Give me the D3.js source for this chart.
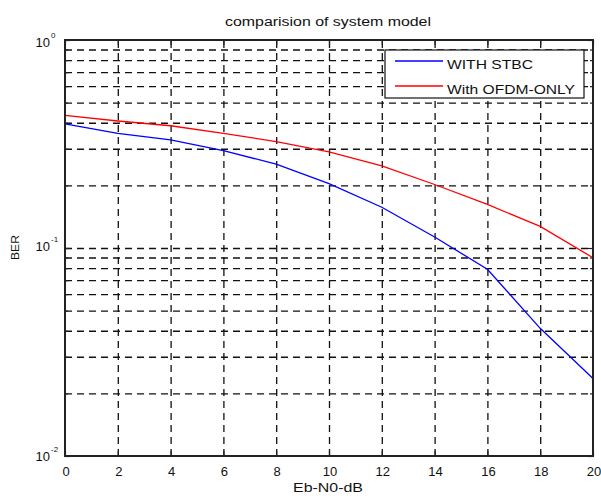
<!DOCTYPE html>
<html>
<head>
<meta charset="utf-8">
<script src="https://cdn.jsdelivr.net/npm/d3@7"></script>
<style>
body { margin: 0; background: #fff; }
svg text { font-family: "Liberation Sans", Arial, sans-serif; fill: #111; }
.grid line { stroke: #111; stroke-width: 1.3; stroke-dasharray: 7,5; }
.grid path, .ticks path { display: none; }
.ticks line { stroke: #222; stroke-width: 1.2; }
</style>
</head>
<body>
<div id="chart"></div>
<script>
// data
var ebn0 = [0, 2, 4, 6, 8, 10, 12, 14, 16, 18, 20];
var berStbc = [0.395, 0.356, 0.331, 0.294, 0.253, 0.204, 0.157, 0.113, 0.079, 0.0411, 0.0236];
var berOfdm = [0.434, 0.408, 0.387, 0.356, 0.325, 0.290, 0.248, 0.202, 0.162, 0.127, 0.0898];

var xTickValues = [0, 2, 4, 6, 8, 10, 12, 14, 16, 18, 20];
var yMajorTicks = [1, 0.1, 0.01];
var yExponents = ["0", "-1", "-2"];
var yMinorTicks = [0.02, 0.03, 0.04, 0.05, 0.06, 0.07, 0.08, 0.09,
                   0.2, 0.3, 0.4, 0.5, 0.6, 0.7, 0.8, 0.9];
var seriesNames = ["WITH STBC", "With OFDM-ONLY"];
var seriesColors = ["#0000ff", "#ff0000"];

var svgWidth = 601;
var svgHeight = 498;
var margin = { top: 40, right: 8, bottom: 42, left: 65 };
var width = svgWidth - margin.left - margin.right;
var height = svgHeight - margin.top - margin.bottom;

var svg = d3.select("#chart")
    .append("svg")
    .attr("width", svgWidth)
    .attr("height", svgHeight);

var chartGroup = svg.append("g")
    .attr("transform", `translate(${margin.left}, ${margin.top})`);

var xScale = d3.scaleLinear().domain([0, 20]).range([0, width]);
var yScale = d3.scaleLog().domain([0.01, 1]).range([height, 0]);

// dashed grid
chartGroup.append("g")
    .attr("class", "grid")
    .attr("transform", `translate(0, ${height})`)
    .call(d3.axisBottom(xScale).tickValues(xTickValues.slice(1, -1)).tickSize(-height).tickFormat(""));

chartGroup.append("g")
    .attr("class", "grid")
    .call(d3.axisLeft(yScale).tickValues(yMinorTicks.concat([0.1])).tickSize(-width).tickFormat(""));

// inward ticks on all four sides
chartGroup.append("g").attr("class", "ticks")
    .attr("transform", `translate(0, ${height})`)
    .call(d3.axisBottom(xScale).tickValues(xTickValues).tickSize(-5).tickFormat(""));
chartGroup.append("g").attr("class", "ticks")
    .call(d3.axisTop(xScale).tickValues(xTickValues).tickSize(-5).tickFormat(""));
chartGroup.append("g").attr("class", "ticks")
    .call(d3.axisLeft(yScale).tickValues(yMajorTicks).tickSize(-5).tickFormat(""));
chartGroup.append("g").attr("class", "ticks")
    .call(d3.axisLeft(yScale).tickValues(yMinorTicks).tickSize(-3).tickFormat(""));
chartGroup.append("g").attr("class", "ticks")
    .attr("transform", `translate(${width}, 0)`)
    .call(d3.axisRight(yScale).tickValues(yMajorTicks).tickSize(-5).tickFormat(""));
chartGroup.append("g").attr("class", "ticks")
    .attr("transform", `translate(${width}, 0)`)
    .call(d3.axisRight(yScale).tickValues(yMinorTicks).tickSize(-3).tickFormat(""));

// curves
var line = d3.line()
    .x((d, i) => xScale(ebn0[i]))
    .y(d => yScale(d));

[berStbc, berOfdm].forEach(function(series, i) {
    chartGroup.append("path")
        .datum(series)
        .attr("fill", "none")
        .attr("stroke", seriesColors[i])
        .attr("stroke-width", 1.3)
        .attr("d", line);
});

// plot box
chartGroup.append("rect")
    .attr("width", width)
    .attr("height", height)
    .attr("fill", "none")
    .attr("stroke", "#222")
    .attr("stroke-width", 2);

// x tick labels
chartGroup.selectAll(".xlabel")
    .data(xTickValues)
    .enter()
    .append("text")
    .attr("class", "xlabel")
    .attr("x", d => xScale(d) + 1)
    .attr("y", height + 20)
    .attr("text-anchor", "middle")
    .style("font-size", "13px")
    .text(d => d);

// y tick labels 10^n
var yLabels = chartGroup.selectAll(".ylabel")
    .data(yMajorTicks)
    .enter()
    .append("g")
    .attr("class", "ylabel")
    .attr("transform", (d, i) => `translate(-15, ${yScale(d) + (i === 0 ? 7 : (i === 1 ? 3 : 5))})`);

yLabels.append("text")
    .attr("text-anchor", "end")
    .style("font-size", "13px")
    .text("10");

yLabels.append("text")
    .attr("x", 1)
    .attr("y", -9)
    .style("font-size", "8px")
    .text((d, i) => yExponents[i]);

// title and axis labels
svg.append("text")
    .attr("x", 225)
    .attr("y", 26)
    .attr("textLength", 206)
    .attr("lengthAdjust", "spacingAndGlyphs")
    .style("font-size", "12px")
    .text("comparision of system model");

svg.append("text")
    .attr("x", 293)
    .attr("y", 492)
    .attr("textLength", 70)
    .attr("lengthAdjust", "spacingAndGlyphs")
    .style("font-size", "12px")
    .text("Eb-N0-dB");

svg.append("text")
    .attr("transform", "translate(19, 260) rotate(-90)")
    .attr("textLength", 25)
    .attr("lengthAdjust", "spacingAndGlyphs")
    .style("font-size", "11px")
    .text("BER");

// legend
var legend = svg.append("g");
legend.append("rect")
    .attr("x", 385)
    .attr("y", 50)
    .attr("width", 199)
    .attr("height", 48)
    .attr("fill", "#fff")
    .attr("stroke", "#111")
    .attr("stroke-width", 1.2);

var legendLengths = [86, 128];
seriesNames.forEach(function(name, i) {
    var ly = 61 + i * 25;
    legend.append("line")
        .attr("x1", 395)
        .attr("x2", 443)
        .attr("y1", ly)
        .attr("y2", ly)
        .attr("stroke", seriesColors[i])
        .attr("stroke-width", 1.3);
    legend.append("text")
        .attr("x", 447)
        .attr("y", ly + 8)
        .attr("textLength", legendLengths[i])
        .attr("lengthAdjust", "spacingAndGlyphs")
        .style("font-size", "12px")
        .text(name);
});
</script>
</body>
</html>
